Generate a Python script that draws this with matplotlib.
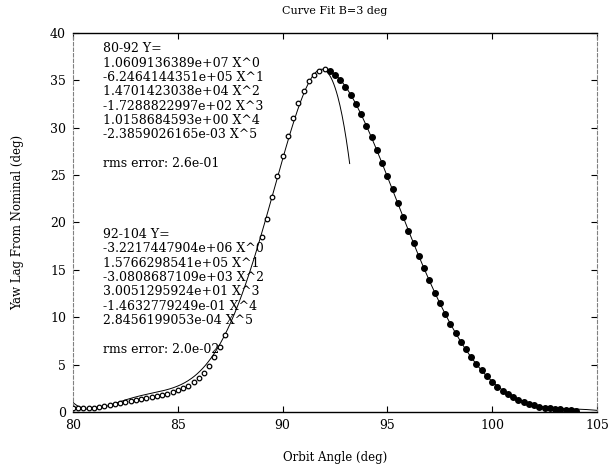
import numpy as np
import matplotlib
matplotlib.use("Agg")
import matplotlib.pyplot as plt

# Measured yaw lag, 80-92 deg segment (open markers)
x_low = [80.00, 80.25, 80.50, 80.75, 81.00, 81.25, 81.50, 81.75, 82.00, 82.25,
         82.50, 82.75, 83.00, 83.25, 83.50, 83.75, 84.00, 84.25, 84.50, 84.75,
         85.00, 85.25, 85.50, 85.75, 86.00, 86.25, 86.50, 86.75, 87.00, 87.25,
         89.00, 89.25, 89.50, 89.75, 90.00, 90.25, 90.50, 90.75, 91.00, 91.25,
         91.50, 91.75, 92.00]
y_low = [0.45, 0.40, 0.38, 0.40, 0.45, 0.52, 0.60, 0.70, 0.80, 0.92,
         1.03, 1.14, 1.25, 1.36, 1.47, 1.58, 1.70, 1.82, 1.95, 2.10,
         2.28, 2.50, 2.78, 3.12, 3.55, 4.10, 4.85, 5.80, 6.90, 8.10,
         18.5, 20.4, 22.7, 24.9, 27.0, 29.1, 31.0, 32.6, 33.9, 34.9,
         35.6, 36.0, 36.2]

# Measured yaw lag, 92-104 deg segment (filled markers)
x_high = [92.25, 92.50, 92.75, 93.00, 93.25, 93.50, 93.75, 94.00, 94.25, 94.50,
          94.75, 95.00, 95.25, 95.50, 95.75, 96.00, 96.25, 96.50, 96.75, 97.00,
          97.25, 97.50, 97.75, 98.00, 98.25, 98.50, 98.75, 99.00, 99.25, 99.50,
          99.75, 100.00, 100.25, 100.50, 100.75, 101.00, 101.25, 101.50, 101.75,
          102.00, 102.25, 102.50, 102.75, 103.00, 103.25, 103.50, 103.75, 104.00]
y_high = [36.0, 35.6, 35.0, 34.3, 33.5, 32.5, 31.4, 30.2, 29.0, 27.7,
          26.3, 24.9, 23.5, 22.1, 20.6, 19.1, 17.8, 16.5, 15.2, 13.9,
          12.6, 11.5, 10.3, 9.3, 8.3, 7.4, 6.6, 5.8, 5.1, 4.4,
          3.8, 3.2, 2.65, 2.2, 1.85, 1.55, 1.28, 1.05, 0.85,
          0.70, 0.57, 0.47, 0.39, 0.32, 0.27, 0.22, 0.18, 0.15]

# Fifth-order fit coefficients, X^0 .. X^5
coef_low = [1.0609136389e+07, -6.2464144351e+05, 1.4701423038e+04,
            -1.7288822997e+02, 1.0158684593e+00, -2.3859026165e-03]
coef_high = [-3.2217447904e+06, 1.5766298541e+05, -3.0808687109e+03,
             3.0051295924e+01, -1.4632779249e-01, 2.8456199053e-04]
rms_low = "2.6e-01"
rms_high = "2.0e-02"

title = "Curve Fit B=3 deg"
xlabel = "Orbit Angle (deg)"
ylabel = "Yaw Lag From Nominal (deg)"
xticks = [80, 85, 90, 95, 100, 105]
yticks = [0, 5, 10, 15, 20, 25, 30, 35, 40]

serif = ["DejaVu Serif"]
plt.rcParams["font.family"] = serif

fig = plt.figure(figsize=(6.14, 4.70), dpi=100)
ax = fig.add_axes([0.1189, 0.1234, 0.8534, 0.8064])

def poly(coef, x):
    return np.polyval(coef[::-1], x)

xf1 = np.linspace(80.0, 93.2, 400)
xf2 = np.linspace(92.0, 105.0, 400)
ax.plot(xf1, poly(coef_low, xf1), color="black", lw=0.7, zorder=2)
ax.plot(xf2, poly(coef_high, xf2), color="black", lw=0.7, zorder=2)

ax.plot(x_low, y_low, linestyle="none", marker="o", ms=3.3, mfc="white",
        mec="black", mew=0.9, zorder=3)
ax.plot(x_high, y_high, linestyle="none", marker="o", ms=4.0, mfc="black",
        mec="black", zorder=3)

def block(label, coef, rms):
    lines = [f"{label} Y="]
    for i, c in enumerate(coef):
        lines.append(f"{c:.10e} X^{i}")
    lines += ["", f"rms error: {rms}"]
    return "\n".join(lines)

ax.text(0.057, 0.975, block("80-92", coef_low, rms_low), transform=ax.transAxes,
        ha="left", va="top", fontsize=9, linespacing=1.13, color="black")
ax.text(0.057, 0.485, block("92-104", coef_high, rms_high), transform=ax.transAxes,
        ha="left", va="top", fontsize=9, linespacing=1.13, color="black")

ax.set_xlim(80, 105)
ax.set_ylim(0, 40)
ax.set_xticks(xticks)
ax.set_yticks(yticks)
ax.tick_params(direction="in", length=4, width=0.8, labelsize=9,
               top=True, right=True, pad=5)
for side in ("top", "bottom"):
    ax.spines[side].set_linewidth(1.0)
    ax.spines[side].set_color("black")
for side in ("left", "right"):
    ax.spines[side].set_linewidth(0.8)
    ax.spines[side].set_color("0.5")
    ax.spines[side].set_linestyle((0, (3, 2)))

ax.set_title(title, fontsize=8, pad=14)
ax.set_xlabel(xlabel, fontsize=8.5, labelpad=14)
ax.set_ylabel(ylabel, fontsize=8.5, labelpad=19)

fig.savefig("out.png", dpi=100)
